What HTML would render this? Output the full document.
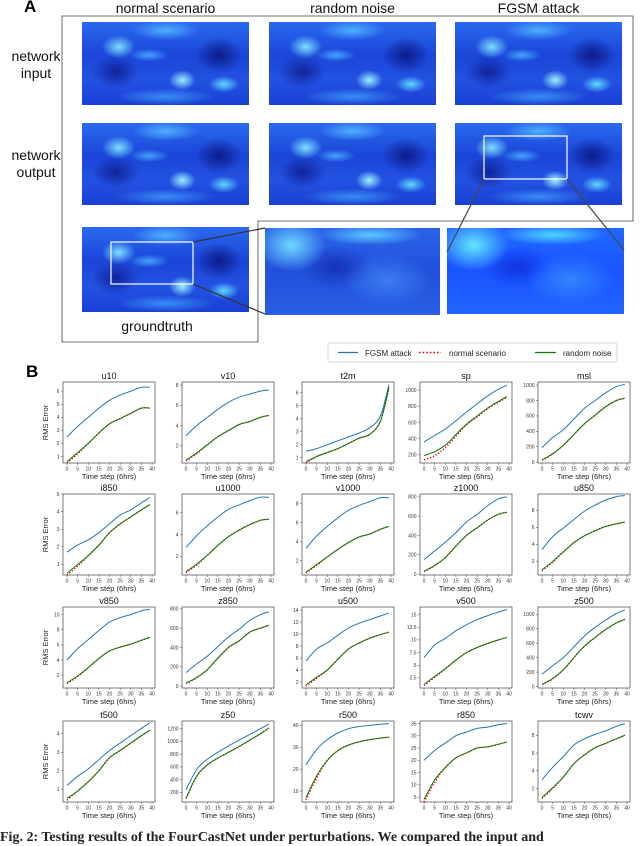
<!DOCTYPE html>
<html><head><meta charset="utf-8">
<style>
html,body{margin:0;padding:0;background:#fff;}
body{width:640px;height:838px;position:relative;overflow:hidden;font-family:"Liberation Sans",sans-serif;}
.map{position:absolute;overflow:hidden;
 background:
 radial-gradient(ellipse 10% 14% at 22% 30%, #7de0ff 0%, rgba(80,200,255,0) 100%),
 radial-gradient(ellipse 8% 12% at 60% 70%, #9ef0ff 0%, rgba(80,200,255,0) 100%),
 radial-gradient(ellipse 9% 10% at 85% 75%, #60d8ff 0%, rgba(80,200,255,0) 100%),
 radial-gradient(ellipse 20% 12% at 50% 10%, #4fb0ff 0%, rgba(80,200,255,0) 100%),
 radial-gradient(ellipse 14% 22% at 82% 40%, #0c1c8a 0%, rgba(12,28,138,0) 100%),
 radial-gradient(ellipse 14% 20% at 20% 60%, #10249a 0%, rgba(12,28,138,0) 100%),
 radial-gradient(ellipse 30% 10% at 50% 90%, #3a8cf5 0%, rgba(60,140,245,0) 100%),
 radial-gradient(ellipse 12% 8% at 40% 40%, #46a4ff 0%, rgba(70,164,255,0) 100%),
 linear-gradient(#2a6af0,#1b45d8 40%,#2352e2 70%,#1a40d4);}
.zoommap{position:absolute;overflow:hidden;
 background:
 radial-gradient(ellipse 20% 30% at 15% 20%, #6fd8ff 0%, rgba(80,200,255,0) 100%),
 radial-gradient(ellipse 30% 12% at 60% 8%, #5cc8ff 0%, rgba(80,200,255,0) 100%),
 radial-gradient(ellipse 25% 30% at 70% 60%, #3b7ef0 0%, rgba(60,120,240,0) 100%),
 radial-gradient(ellipse 20% 25% at 40% 45%, #1633b8 0%, rgba(20,50,180,0) 100%),
 linear-gradient(#2a63ea,#2250dc 50%,#2a5ee6);}
.lbl{position:absolute;font-size:14px;color:#111;text-align:center;}
</style></head>
<body>
<div style="position:absolute;left:24px;top:-3px;font-size:17px;font-weight:bold;">A</div>
<div class="lbl" style="left:82px;top:0px;width:167px;">normal scenario</div>
<div class="lbl" style="left:269px;top:0px;width:167px;">random noise</div>
<div class="lbl" style="left:455px;top:0px;width:167px;">FGSM attack</div>
<div class="lbl" style="left:4px;top:48px;width:64px;line-height:17px;">network<br>input</div>
<div class="lbl" style="left:4px;top:147px;width:64px;line-height:17px;">network<br>output</div>
<div class="lbl" style="left:82px;top:318px;width:150px;">groundtruth</div>

<div class="map" style="left:82px;top:22px;width:167px;height:83px;"></div>
<div class="map" style="left:269px;top:22px;width:167px;height:83px;"></div>
<div class="map" style="left:455px;top:22px;width:167px;height:83px;"></div>
<div class="map" style="left:82px;top:123px;width:167px;height:82px;"></div>
<div class="map" style="left:269px;top:123px;width:167px;height:82px;"></div>
<div class="map" style="left:455px;top:123px;width:167px;height:82px;"></div>
<div class="map" style="left:82px;top:227px;width:167px;height:85px;"></div>
<div class="zoommap" style="left:265px;top:228px;width:175px;height:87px;"></div>
<div class="zoommap" style="left:447px;top:228px;width:177px;height:86px;filter:saturate(1.2) brightness(1.05);"></div>

<svg width="640" height="345" style="position:absolute;left:0;top:0;">
 <path d="M62,342 L62,16 L633,16 L633,221 L258,221 L258,342 Z" fill="none" stroke="#444" stroke-width="0.8"/>
 <rect x="111" y="242" width="82" height="42" fill="none" stroke="#fff" stroke-width="1.2"/>
 <rect x="484" y="136" width="83" height="43" fill="none" stroke="#fff" stroke-width="1.2"/>
 <line x1="193" y1="242" x2="265" y2="228" stroke="#333" stroke-width="1.2"/>
 <line x1="193" y1="284" x2="265" y2="314" stroke="#333" stroke-width="1.2"/>
 <line x1="484" y1="179" x2="447" y2="252" stroke="#444" stroke-width="1.2"/>
 <line x1="567" y1="179" x2="624" y2="250" stroke="#444" stroke-width="1.2"/>
</svg>

<div style="position:absolute;left:26px;top:362px;font-size:17px;font-weight:bold;">B</div>

<svg id="chart" width="640" height="838" style="position:absolute;left:0;top:0;"></svg>

<div style="position:absolute;left:0;top:830px;white-space:nowrap;font-family:'Liberation Serif',serif;font-size:14px;font-weight:bold;color:#222;">Fig. 2: Testing results of the FourCastNet under perturbations. We compared the input and</div>

<script>
const steps=[0,5,10,15,20,25,30,35,39];
const titles=["u10","v10","t2m","sp","msl","i850","u1000","v1000","z1000","u850","v850","z850","u500","v500","z500","t500","z50","r500","r850","tcwv"];
const yTicks=[[1,2,3,4,5,6],[2,4,6,8],[1,2,3,4,5,6],[200,400,600,800,1000],[0,200,400,600,800,1000],
[1,2,3,4,5],[2,4,6],[2,4,6,8],[0,200,400,600,800],[2,4,6,8],
[2,4,6,8,10],[0,200,400,600,800],[2,4,6,8,10,12,14],[2.5,5.0,7.5,10.0,12.5,15.0],[0,200,400,600,800,1000],
[1,2,3,4],[200,400,600,800,1000,1200],[10,20,30,40],[5,10,15,20,25,30,35],[2,4,6,8]];
const yDomains=[[0.5,6.7],[0.3,8.3],[0.6,6.8],[100,1100],[-10,1040],
[0.4,5.0],[0.3,7.7],[0.5,9.0],[-10,830],[0.4,9.9],
[0.3,11.0],[-20,820],[1,14.5],[0.5,16.5],[-20,1100],
[0.3,4.7],[50,1320],[5,42],[3,36],[0.5,9.6]];
const fgsmSeries=[[2.5,3.3,4.0,4.7,5.3,5.7,6.0,6.3,6.3],[3.0,4.0,4.8,5.6,6.3,6.8,7.1,7.4,7.5],[1.5,1.7,2.0,2.3,2.6,2.9,3.3,4.2,6.6],[360,440,520,620,730,830,930,1010,1060],[190,320,420,560,700,800,900,980,1010],
[1.7,2.1,2.4,2.8,3.3,3.8,4.1,4.5,4.8],[2.8,3.9,4.8,5.6,6.3,6.7,7.1,7.4,7.4],[3.3,4.6,5.6,6.5,7.3,7.8,8.2,8.6,8.6],[150,240,330,430,540,620,710,780,800],[3.4,4.9,5.9,6.9,7.9,8.6,9.2,9.6,9.7],
[4.0,5.5,6.7,7.9,9.0,9.6,10.0,10.5,10.7],[140,230,310,410,510,590,680,740,770],[5.5,7.5,8.5,9.8,11.0,11.8,12.4,13.0,13.5],[6.5,9.0,10.3,11.8,13.0,14.0,14.8,15.5,16.0],[170,290,400,550,700,820,920,1010,1060],
[1.2,1.7,2.1,2.6,3.1,3.5,3.9,4.3,4.6],[240,560,720,830,930,1020,1110,1200,1270],[22,29,33.5,36.5,38.5,39.5,40,40.5,40.8],[20,24,27,30,31.5,33,33.5,34.5,35],[3.0,4.4,5.6,6.9,7.6,8.1,8.5,9.0,9.3]];
const noiseSeries=[[0.6,1.3,2.0,2.8,3.5,3.9,4.3,4.7,4.7],[0.6,1.3,2.1,2.9,3.5,4.1,4.4,4.8,5.0],[0.7,1.1,1.4,1.7,2.1,2.5,2.8,3.8,6.4],[190,240,320,450,580,680,780,860,920],[30,110,220,360,500,610,720,800,830],
[0.5,1.0,1.5,2.1,2.8,3.3,3.7,4.1,4.4],[0.6,1.3,2.1,3.0,3.8,4.4,4.9,5.3,5.4],[0.8,1.6,2.4,3.2,3.9,4.5,4.8,5.3,5.6],[30,90,170,290,400,480,560,620,640],[1.0,2.0,3.1,4.2,5.0,5.6,6.1,6.4,6.6],
[1.0,1.9,3.0,4.2,5.2,5.7,6.1,6.6,7.0],[30,90,170,290,400,470,560,600,630],[1.5,2.8,4.0,5.8,7.5,8.5,9.3,9.9,10.3],[1.2,2.8,4.3,6.0,7.5,8.5,9.3,10.0,10.5],[30,110,230,400,560,680,790,880,930],
[0.5,0.9,1.4,2.0,2.7,3.1,3.5,3.9,4.2],[110,460,630,740,830,920,1020,1120,1210],[7,17,24,28.5,31,32.5,33.5,34.2,34.6],[4,12,17,21,23,25,25.5,26.5,27.5],[1.0,2.1,3.3,4.8,5.8,6.6,7.1,7.6,8.0]];
const normalSeries=[[0.5,1.2,2.0,2.8,3.5,3.9,4.3,4.7,4.7],[0.5,1.2,2.1,2.9,3.5,4.1,4.4,4.8,5.0],[0.6,1.1,1.4,1.7,2.1,2.5,2.8,3.8,6.3],[140,190,290,430,570,670,770,850,910],[25,105,220,360,500,610,720,800,830],
[0.4,0.9,1.5,2.1,2.8,3.3,3.7,4.1,4.4],[0.5,1.2,2.1,3.0,3.8,4.4,4.9,5.3,5.4],[0.7,1.5,2.4,3.2,3.9,4.5,4.8,5.3,5.6],[25,85,170,290,400,480,560,620,640],[0.9,1.9,3.1,4.2,5.0,5.6,6.1,6.4,6.6],
[0.9,1.8,3.0,4.2,5.2,5.7,6.1,6.6,7.0],[25,85,170,290,400,470,560,600,630],[1.3,2.6,4.0,5.8,7.5,8.5,9.3,9.9,10.3],[1.0,2.6,4.3,6.0,7.5,8.5,9.3,10.0,10.5],[25,105,230,400,560,680,790,880,930],
[0.4,0.9,1.4,2.0,2.7,3.1,3.5,3.9,4.2],[100,450,630,740,830,920,1020,1120,1210],[6,16,24,28.5,31,32.5,33.5,34.2,34.6],[3,11,17,21,23,25,25.5,26.5,27.5],[0.9,2.0,3.3,4.8,5.8,6.6,7.1,7.6,8.0]];
const xTicks=[0,5,10,15,20,25,30,35,40];

const NS="http://www.w3.org/2000/svg";
const svg=document.getElementById('chart');
const colLeft=[63,182,302,420,538], rowTop=[382,494,607,721], W=92, H=81;
function mk(tag,attrs,parent){const e=document.createElementNS(NS,tag);for(const k in attrs)e.setAttribute(k,attrs[k]);(parent||svg).appendChild(e);return e;}
function smoothPath(pts){
 let d="M"+pts[0][0].toFixed(1)+","+pts[0][1].toFixed(1);
 for(let i=0;i<pts.length-1;i++){
  const p0=pts[i-1]||pts[i],p1=pts[i],p2=pts[i+1],p3=pts[i+2]||p2;
  const c1=[p1[0]+(p2[0]-p0[0])/6,p1[1]+(p2[1]-p0[1])/6],c2=[p2[0]-(p3[0]-p1[0])/6,p2[1]-(p3[1]-p1[1])/6];
  d+=" C"+c1[0].toFixed(1)+","+c1[1].toFixed(1)+" "+c2[0].toFixed(1)+","+c2[1].toFixed(1)+" "+p2[0].toFixed(1)+","+p2[1].toFixed(1);
 }
 return d;
}
const lg=mk('g',{});


mk('rect',{x:328,y:343,width:289,height:19,rx:2,fill:'#fff',stroke:'#ccc','stroke-width':0.8},lg);
mk('line',{x1:338,y1:352.5,x2:358,y2:352.5,stroke:'#1f77b4','stroke-width':1.3},lg);
let t=mk('text',{x:365,y:356,'font-size':8,fill:'#222'},lg);t.textContent='FGSM attack';
mk('line',{x1:419,y1:352.5,x2:441,y2:352.5,stroke:'#e00','stroke-width':1.6,'stroke-dasharray':'1.6,2'},lg);
t=mk('text',{x:449,y:356,'font-size':8,fill:'#222'},lg);t.textContent='normal scenario';
mk('line',{x1:535,y1:352.5,x2:556,y2:352.5,stroke:'#0a7a0a','stroke-width':1.3},lg);
t=mk('text',{x:563,y:356,'font-size':8,fill:'#222'},lg);t.textContent='random noise';

for(let i=0;i<titles.length;i++){
 const r=Math.floor(i/5),c=i%5,L=colLeft[c],T=rowTop[r];
 const g=mk('g',{});
 
 
 const [y0,y1]=yDomains[i];
 const sx=v=>L+(v+1.9)/(43.3)*W;
 const sy=v=>T+H-(v-y0)/(y1-y0)*H;
 mk('rect',{x:L,y:T,width:W,height:H,fill:'none',stroke:'#444','stroke-width':0.7},g);
 const tt=mk('text',{x:L+W/2,y:T-3,'font-size':9,'text-anchor':'middle',fill:'#111'},g);tt.textContent=titles[i];
 
 
 xTicks.forEach(v=>{const x=sx(v);mk('line',{x1:x,y1:T+H,x2:x,y2:T+H+2,stroke:'#444','stroke-width':0.5},g);
  const e=mk('text',{x:x,y:T+H+7.5,'font-size':5,'text-anchor':'middle',fill:'#333'},g);e.textContent=v;});
 yTicks[i].forEach(v=>{const y=sy(v);mk('line',{x1:L-2,y1:y,x2:L,y2:y,stroke:'#444','stroke-width':0.5},g);
  const e=mk('text',{x:L-3.5,y:y+1.8,'font-size':5,'text-anchor':'end',fill:'#333'},g);e.textContent=v;});
 const xl=mk('text',{x:L+W/2,y:T+H+16,'font-size':7.5,'text-anchor':'middle',fill:'#222'},g);xl.textContent='Time step (6hrs)';
 
 
 if(c===0){const yl=mk('text',{x:0,y:0,'font-size':7.5,'text-anchor':'middle',fill:'#222',transform:'translate('+(L-15)+','+(T+H/2)+') rotate(-90)'},g);yl.textContent='RMS Error';
  
  }
 const p1=mk('path',{d:smoothPath(steps.map((s,k)=>[sx(s),sy(fgsmSeries[i][k])])),fill:'none',stroke:'#1f77b4','stroke-width':1},g);
 
 
 const p2=mk('path',{d:smoothPath(steps.map((s,k)=>[sx(s),sy(normalSeries[i][k])])),fill:'none',stroke:'#e00','stroke-width':1.4,'stroke-dasharray':'1.3,1.8'},g);
 
 
 const p3=mk('path',{d:smoothPath(steps.map((s,k)=>[sx(s),sy(noiseSeries[i][k])])),fill:'none',stroke:'#0a7a0a','stroke-width':1},g);
 
 
}
</script>
</body></html>
